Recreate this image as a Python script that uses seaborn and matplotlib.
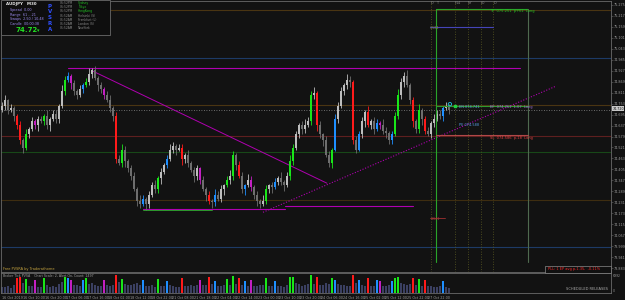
import numpy as np
import pandas as pd
import matplotlib
matplotlib.use("Agg")
import matplotlib.pyplot as plt
import seaborn as sns
from matplotlib.patches import Rectangle

# ---------------- data ----------------
closes = [74.74, 74.77, 74.72, 74.73, 74.69, 74.64, 74.56, 74.52, 74.59, 74.62,
          74.66, 74.64, 74.67, 74.66, 74.69, 74.64, 74.67, 74.70, 74.67, 74.74,
          74.82, 74.88, 74.90, 74.86, 74.82, 74.80, 74.83, 74.85, 74.87, 74.91,
          74.93, 74.89, 74.85, 74.83, 74.80, 74.77, 74.73, 74.69, 74.46, 74.44,
          74.51, 74.45, 74.41, 74.37, 74.30, 74.24, 74.22, 74.25, 74.22, 74.27,
          74.32, 74.30, 74.36, 74.39, 74.43, 74.46, 74.51, 74.53, 74.51, 74.52,
          74.46, 74.48, 74.44, 74.40, 74.37, 74.41, 74.35, 74.30, 74.27, 74.24,
          74.23, 74.27, 74.25, 74.30, 74.32, 74.35, 74.37, 74.48, 74.43, 74.37,
          74.30, 74.32, 74.35, 74.31, 74.27, 74.24, 74.22, 74.24, 74.30, 74.32,
          74.31, 74.34, 74.36, 74.34, 74.32, 74.37, 74.45, 74.52, 74.59, 74.64,
          74.62, 74.64, 74.66, 74.80, 74.81, 74.64, 74.59, 74.56, 74.48, 74.44,
          74.51, 74.67, 74.74, 74.82, 74.85, 74.88, 74.87, 74.56, 74.51, 74.59,
          74.66, 74.71, 74.64, 74.66, 74.62, 74.65, 74.64, 74.61, 74.60, 74.56,
          74.59, 74.69, 74.80, 74.87, 74.90, 74.85, 74.77, 74.66, 74.62, 74.72,
          74.67, 74.61, 74.59, 74.65, 74.67, 74.70, 74.69, 74.73, 74.74, 74.72]
first_open = 74.72
wick_up = [2, 3, 1, 2, 1, 1, 2, 1, 3, 1, 2, 1, 2, 2, 1, 3, 1, 2, 2, 1,
           3, 2, 2, 1, 2, 1, 2, 1, 2, 3, 1, 2, 1, 2, 1, 2, 3, 1, 2, 2,
           3, 2, 1, 2, 2, 1, 3, 2, 1, 2, 2, 3, 1, 2, 1, 2, 3, 2, 1, 2,
           2, 1, 3, 1, 2, 2, 1, 2, 1, 2, 1, 3, 2, 2, 1, 2, 3, 2, 1, 2,
           2, 1, 3, 2, 1, 2, 1, 3, 2, 1, 2, 2, 1, 3, 1, 2, 3, 2, 2, 1,
           2, 3, 2, 2, 3, 1, 2, 1, 2, 2, 1, 3, 2, 2, 1, 3, 2, 1, 2, 2,
           2, 1, 3, 1, 2, 2, 1, 3, 2, 1, 2, 2, 3, 2, 2, 3, 1, 2, 1, 3,
           1, 2, 2, 1, 3, 2, 2, 1, 2, 1]
wick_dn = [1, 2, 2, 1, 3, 2, 2, 3, 1, 2, 1, 2, 3, 1, 2, 2, 3, 1, 2, 2,
           1, 2, 1, 3, 2, 2, 1, 2, 1, 2, 2, 1, 3, 2, 2, 1, 2, 3, 2, 1,
           2, 3, 2, 2, 1, 3, 2, 1, 3, 2, 1, 2, 2, 3, 1, 2, 1, 2, 3, 1,
           3, 2, 2, 1, 3, 2, 2, 1, 3, 2, 3, 2, 1, 2, 3, 1, 2, 2, 3, 1,
           2, 3, 1, 2, 2, 3, 2, 1, 2, 2, 3, 1, 2, 2, 3, 1, 2, 2, 1, 2,
           3, 2, 1, 2, 2, 3, 2, 3, 1, 2, 3, 1, 2, 1, 2, 2, 3, 2, 2, 1,
           2, 3, 1, 2, 3, 1, 2, 2, 3, 2, 2, 1, 2, 2, 3, 1, 2, 3, 2, 2,
           3, 2, 1, 2, 2, 1, 2, 3, 1, 2]
volumes = [520, 480, 610, 450, 700, 1250, 1300, 820, 1150, 560,
           600, 1050, 480, 520, 1200, 640, 500, 560, 470, 760,
           880, 1350, 1200, 1100, 700, 640, 560, 1050, 1250, 720,
           800, 650, 560, 600, 1100, 640, 560, 700, 1500, 900,
           1150, 720, 680, 640, 760, 820, 700, 1050, 600, 560,
           620, 480, 1150, 560, 600, 1000, 640, 560, 520, 480,
           1200, 560, 600, 640, 560, 620, 1050, 700, 640, 1300,
           720, 1000, 560, 600, 640, 1150, 680, 1400, 720, 1200,
           640, 1000, 560, 1050, 600, 560, 620, 700, 1250, 600,
           560, 1000, 600, 560, 520, 640, 1300, 1350, 800, 720,
           600, 640, 720, 1450, 760, 1300, 700, 640, 800, 720,
           1200, 1050, 760, 700, 640, 600, 560, 1450, 800, 1100,
           640, 600, 1200, 560, 600, 1050, 1000, 560, 600, 640,
           1000, 1200, 1350, 800, 720, 640, 760, 1250, 700, 1150,
           600, 1100, 560, 600, 520, 480, 560, 1000, 480, 400]
pvsra = {5: 'R', 6: 'R', 8: 'G', 11: 'M', 14: 'G', 21: 'G', 22: 'B', 23: 'M',
         27: 'B', 28: 'G', 34: 'M', 38: 'R', 40: 'G', 47: 'B', 52: 'G', 55: 'B',
         60: 'R', 66: 'M', 69: 'R', 71: 'B', 75: 'G', 77: 'G', 79: 'R', 81: 'B',
         83: 'M', 88: 'G', 91: 'B', 96: 'G', 97: 'G', 103: 'G', 105: 'R',
         110: 'G', 111: 'B', 117: 'R', 119: 'B', 122: 'R', 125: 'B', 126: 'M',
         130: 'B', 131: 'G', 132: 'G', 137: 'R', 139: 'G', 141: 'R', 147: 'B'}
price_labels = ["75.275", "75.217", "75.159", "75.101", "75.043", "74.985",
                "74.927", "74.869", "74.811", "74.753", "74.695", "74.637",
                "74.579", "74.521", "74.463", "74.405", "74.347", "74.289",
                "74.231", "74.173", "74.115", "74.057", "73.999", "73.941",
                "73.883"]
date_labels = ["16 Oct 2019", "16 Oct 10:00", "16 Oct 20:00", "17 Oct 06:00",
               "17 Oct 16:00", "18 Oct 02:00", "18 Oct 12:00", "18 Oct 22:00",
               "21 Oct 08:00", "21 Oct 18:00", "22 Oct 04:00", "22 Oct 14:00",
               "23 Oct 00:00", "23 Oct 10:00", "23 Oct 20:00", "24 Oct 06:00",
               "24 Oct 16:00", "25 Oct 02:00", "25 Oct 12:00", "25 Oct 22:00",
               "27 Oct 22:00"]
levels = {"D1 high": 75.249, "75.00": 74.997, "H4 a": 74.748, "SL zone": 74.584,
          "H4 b": 74.495, "D1 low": 74.242, "74.00": 73.994}
current_price = 74.72
sessions = ["D", "T", "F14", "NY", "LO", "D"]

# ---------------- style ----------------
bg = "#121212"
sns.set_style("dark", rc={"axes.facecolor": bg, "figure.facecolor": bg,
                          "axes.edgecolor": "#6a6a6a", "grid.color": bg})
plt.rcParams["font.family"] = ["DejaVu Sans"]

W, H = 625, 300
fig = plt.figure(figsize=(6.25, 3.0), dpi=100)
fig.patch.set_facecolor(bg)
ax = fig.add_axes([1 / W, 1 - 272 / H, 610 / W, 271 / H])
vax = fig.add_axes([1 / W, 1 - 293 / H, 610 / W, 20 / H])

n = len(closes)
idx = np.arange(n)
opens = [first_open] + closes[:-1]
highs = [max(o, c) + 0.01 * u for o, c, u in zip(opens, closes, wick_up)]
lows = [min(o, c) - 0.01 * d for o, c, d in zip(opens, closes, wick_dn)]
codes = [pvsra.get(i, 'U' if closes[i] >= opens[i] else 'D') for i in idx]
cmap = {'U': '#bdbdbd', 'D': '#6e6e6e', 'R': '#ff1a1a', 'G': '#19e619',
        'B': '#1e8fff', 'M': '#c21fc2'}
ccol = [cmap[c] for c in codes]

XMIN = -1 / 3
XMAX = XMIN + 610 / 3
YTOP = 75.296
YBOT = 73.862

# full-width levels
lvl_cols = ["#4a3512", "#1d3a66", "#4a3512", "#5e1f1f", "#184818", "#3e2d10", "#1d3a66"]
for (k, v), col in zip(levels.items(), lvl_cols):
    ax.axhline(v, color=col, lw=0.8, zorder=1)
ax.axhline(current_price, color="#8a8a8a", lw=0.6, ls=(0, (1, 2)), zorder=1)

# session dotted verticals
sess_x = [143.0, 144.7, 151.0, 155.3, 159.7, 163.7]
for sx in [143.0, 151.0, 155.3, 159.7, 163.7]:
    ax.axvline(sx, color="#5c5c22", lw=0.6, ls=(0, (1, 2)), zorder=1)

# candles
bodies_lo = [min(o, c) for o, c in zip(opens, closes)]
bodies_h = [max(abs(c - o), 0.004) for o, c in zip(opens, closes)]
ax.vlines(idx, lows, highs, colors=ccol, lw=0.6, zorder=3)
ax.bar(idx, bodies_h, bottom=bodies_lo, width=0.7, color=ccol, lw=0, zorder=4)

# trend / support / resistance lines (magenta)
mag = "#b000b0"
ax.plot([22, 172.7], [74.94, 74.94], color=mag, lw=0.8, zorder=2)
ax.plot([47, 94.3], [74.198, 74.198], color=mag, lw=0.8, zorder=2)
ax.plot([94.3, 137], [74.21, 74.21], color=mag, lw=0.8, zorder=2)
ax.plot([47, 70], [74.19, 74.19], color="#30b030", lw=0.6, zorder=2)
ax.plot([30, 108.3], [74.927, 74.332], color=mag, lw=0.7, zorder=2)
ax.plot([87, 184.3], [74.178, 74.843], color=mag, lw=0.8, ls=(0, (1, 1.5)), zorder=2)

# trade box
ax.plot([144.7, 144.7], [73.915, 75.254], color="#2aa52a", lw=0.8, zorder=5)
ax.plot([144.7, 175.3], [75.254, 75.254], color="#2aa52a", lw=0.8, zorder=5)
ax.plot([175.3, 175.3], [73.915, 75.254], color="#4f6a4f", lw=0.8, zorder=5)
ax.plot([144.7, 175.3], [74.738, 74.738], color="#2e9a2e", lw=0.8, zorder=5)
ax.plot([144.7, 175.3], [74.587, 74.587], color="#b04848", lw=0.8, zorder=5)
ax.plot([142.7, 163.7], [75.159, 75.159], color="#4545b8", lw=0.8, zorder=5)
ax.plot([142.7, 147.7], [74.147, 74.147], color="#a03030", lw=0.6, zorder=5)
ax.scatter([149.3], [74.75], s=6, facecolors="none", edgecolors="#20c8e8", lw=0.6, zorder=6)
ax.scatter([151.0], [74.738], s=2, marker="s", color="#20d040", zorder=6)

ax.set_xlim(XMIN, XMAX)
ax.set_ylim(YBOT, YTOP)
ax.set_xticks([])
ax.yaxis.tick_right()
ax.set_yticks([75.275 - 0.058 * k for k in range(len(price_labels))])
ax.set_yticklabels(price_labels, fontsize=2.4, color="#9a9a9a")
ax.tick_params(axis="y", length=1.2, pad=0.8, width=0.4, color="#6a6a6a")
for s in ax.spines.values():
    s.set_color("#6a6a6a")
    s.set_linewidth(0.6)

# volume panel
vdf = pd.DataFrame({"idx": idx, "vol": volumes,
                    "code": [c if c in "RGBM" else "N" for c in codes]})
vpal = {"N": "#3b4062", "R": "#ff1a1a", "G": "#19e619", "B": "#1e8fff", "M": "#c21fc2"}
sns.barplot(data=vdf, x="idx", y="vol", hue="code", palette=vpal, native_scale=True,
            dodge=False, legend=False, width=0.7, saturation=1, linewidth=0, ax=vax)
vax.set_xlim(XMIN, XMAX)
vax.set_ylim(0, 1650)
vax.set_yticks([])
vax.set_xlabel("")
vax.set_ylabel("")
vax.set_xticks([7.1 * k for k in range(len(date_labels))])
vax.set_xticklabels(date_labels, fontsize=2.4, color="#9a9a9a", ha="left")
vax.tick_params(axis="x", length=1.2, pad=0.8, width=0.4, color="#6a6a6a")
for s in vax.spines.values():
    s.set_color("#6a6a6a")
    s.set_linewidth(0.6)


def ft(px, py, s, **kw):
    kw.setdefault("va", "center")
    kw.setdefault("ha", "left")
    fig.text(px / W, 1 - py / H, s, **kw)


# trade labels
ft(490, 11, "TP  075.251  p+61  Long", fontsize=2.6, color="#22c422")
ft(459, 107, "EN 074.741", fontsize=2.5, color="#5aa0e6")
ft(490, 107, "EP  074.761  1.07  Long", fontsize=2.6, color="#a070d8")
ft(459, 125, "PE 074.588", fontsize=2.5, color="#5aa0e6")
ft(490, 138, "SL  074.586  p-18  Long", fontsize=2.6, color="#e04040")
ft(430, 28, "3.584", fontsize=2.3, color="#8a8a40")
ft(431, 219, "3.641", fontsize=2.3, color="#b04040")
for sx, lab in zip([431, 437, 455, 468, 481, 494], sessions):
    ft(sx, 3, lab, fontsize=2.4, color="#8a8a8a")

# current price box on axis
fig.add_artist(Rectangle((612 / W, 1 - 111 / H), 12 / W, 5 / H, transform=fig.transFigure,
                         facecolor="#c8c8c8", edgecolor="none", zorder=10))
ft(612.5, 108.5, "74.720", fontsize=2.3, color="#101010", zorder=11)

# info panel
fig.add_artist(Rectangle((1 / W, 1 - 35 / H), 109 / W, 35 / H, transform=fig.transFigure,
                         facecolor="#0e0e0e", edgecolor="#6a6a6a", lw=0.6, zorder=10))
ft(6, 4, "AUDJPY   M30", fontsize=2.9, color="#e8e8e8", zorder=11, weight="bold")
info_rows = ["Spread  0.00", "Range  61 ...21", "Swaps  2.50 / 10.48", "Candle  00:00:38"]
for k, s in enumerate(info_rows):
    ft(10, 10 + 4.6 * k, s, fontsize=2.4, color="#9c8cf0", zorder=11)
ft(15, 30.5, "74.72", fontsize=5, color="#22dd22", zorder=11, weight="bold")
ft(37, 31, "▾", fontsize=3.5, color="#22dd22", zorder=11)
for k, ch in enumerate("PVSRA"):
    ft(50, 6 + 5.8 * k, ch, fontsize=4, color="#2f4fff", zorder=11, weight="bold", ha="center")
times = ["06:52PM", "06:52PM", "06:52PM", "01:52AM", "01:52AM", "01:52AM", "01:52AM"]
cities = ["Sydney", "Tokyo", "HongKong", "Helsinki (S)", "Frankfurt (L)", "London (S)", "NewYork"]
for k, (t, c) in enumerate(zip(times, cities)):
    ft(60, 3 + 4.2 * k, t, fontsize=2.2, color="#8a8a8a", zorder=11)
    ft(78, 3 + 4.2 * k, c, fontsize=2.2, color="#22c022" if k < 3 else "#8a8a8a", zorder=11)
ax.plot([0, 0], [0, 0])
ft(110, 6, "", fontsize=1)

# bottom texts
ft(3, 269, "Free PVSRA by Traderathome", fontsize=2.5, color="#c8a640")
ft(3, 276, "Broker Tick PVSA    Chart Scale: 2, Alert On, Count: 1497", fontsize=2.3, color="#9a9a9a")
ft(608, 289.5, "SCHEDULED RELEASES", fontsize=2.6, color="#a8a8a8", ha="right")
ft(613, 276, "6992", fontsize=2.2, color="#9a9a9a")
ft(613, 291, "0", fontsize=2.2, color="#9a9a9a")
fig.add_artist(Rectangle((545 / W, 1 - 272.5 / H), 66 / W, 7 / H, transform=fig.transFigure,
                         facecolor="#101010", edgecolor="#8a8a8a", lw=0.5, zorder=10))
ft(548, 269, "PLL: 1 EP avg p-1.35,  -0.11%", fontsize=2.5, color="#ff2a2a", zorder=11)

fig.savefig("out.png", dpi=100, facecolor=bg)
